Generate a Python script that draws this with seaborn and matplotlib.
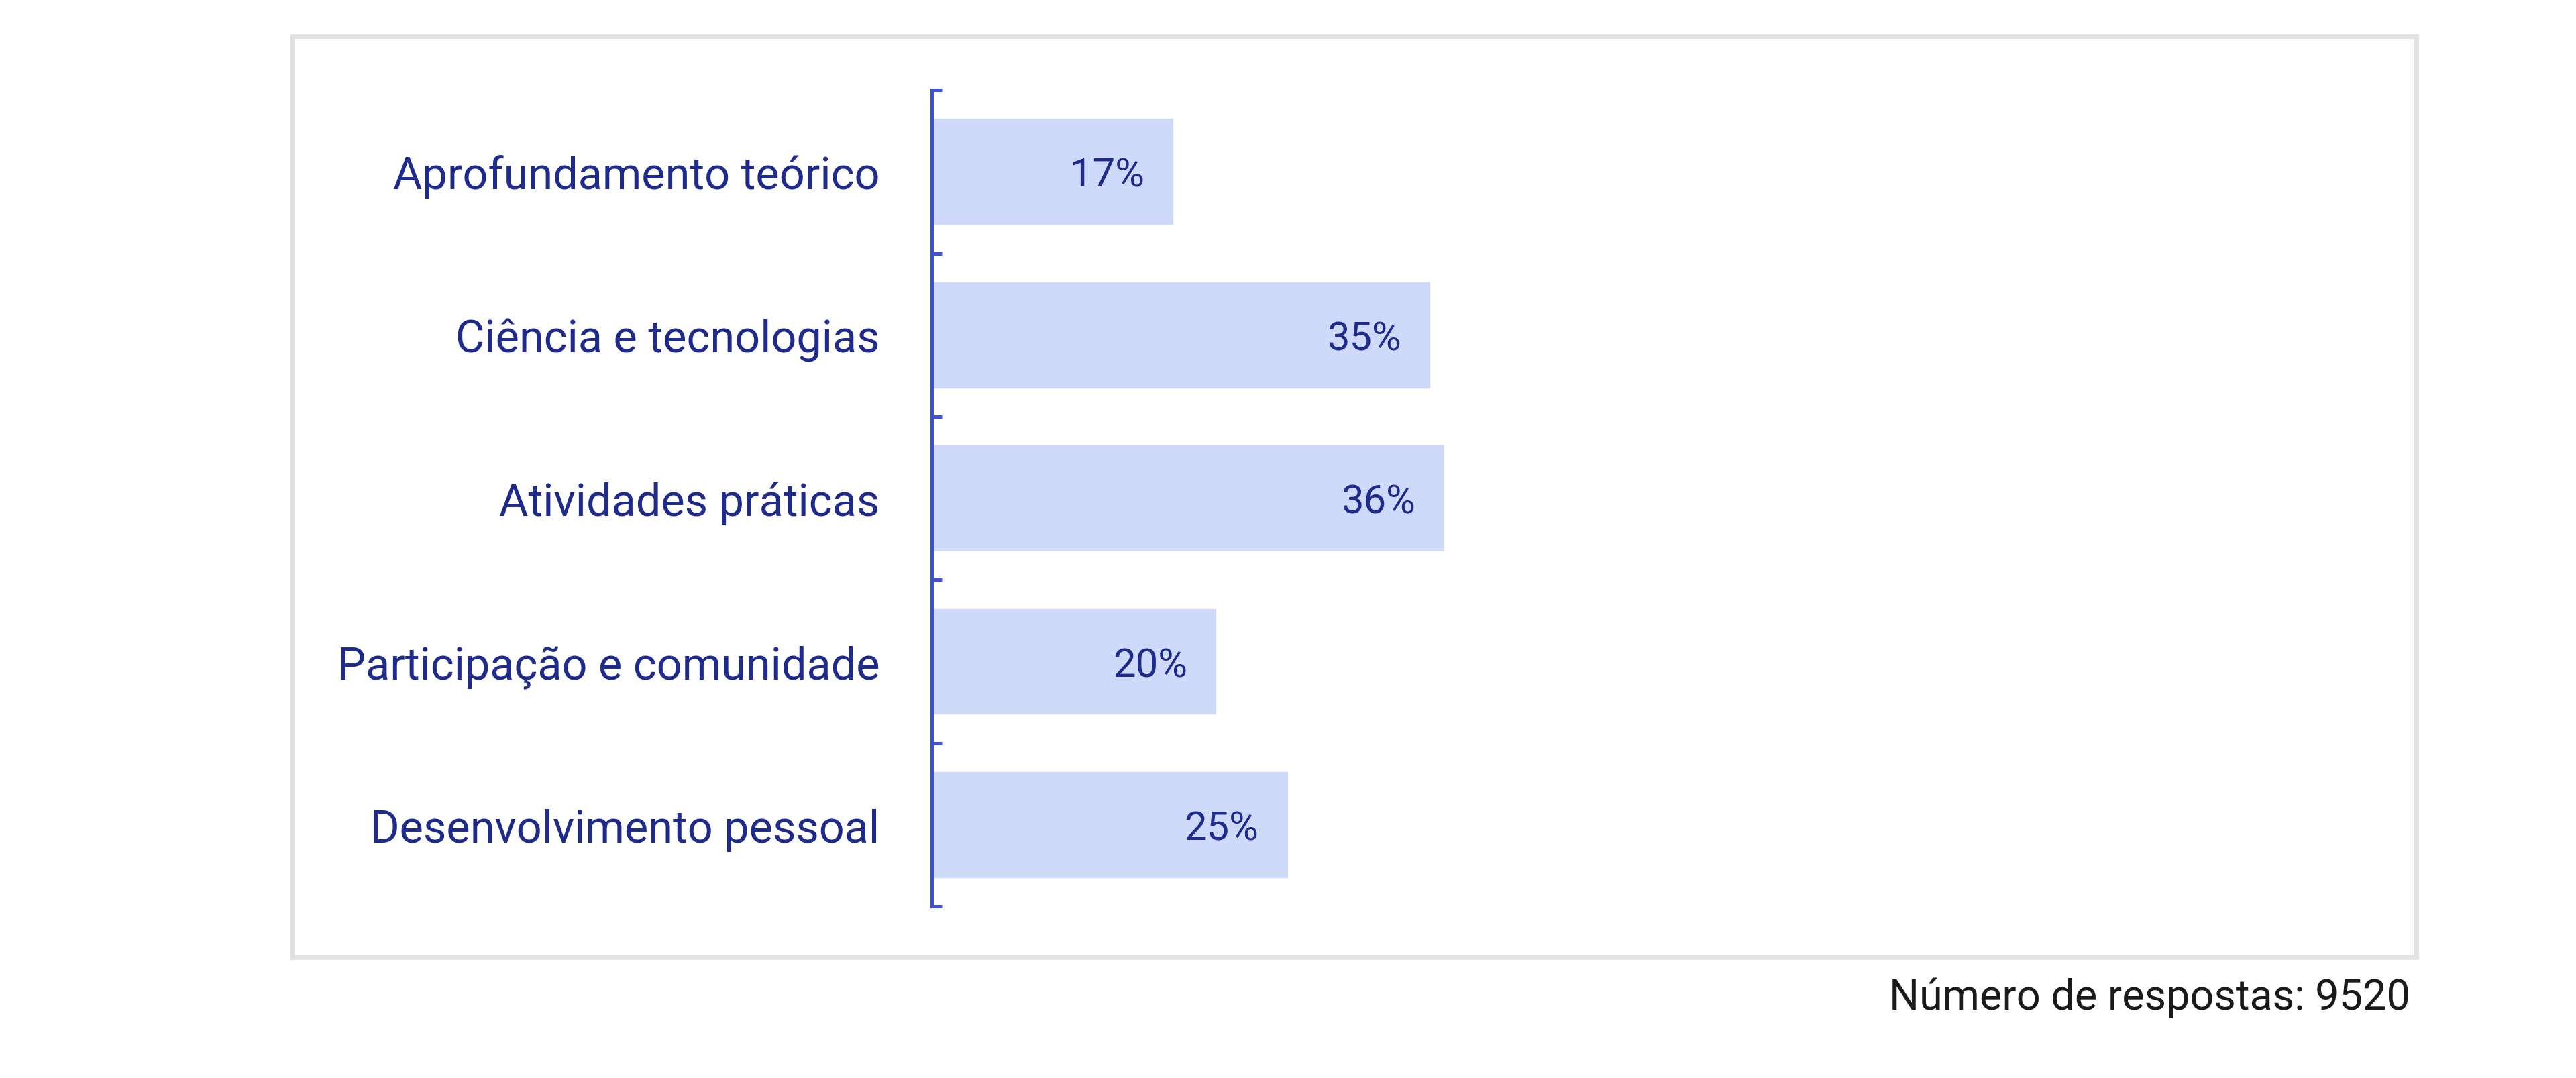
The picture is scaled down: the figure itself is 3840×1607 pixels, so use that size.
import matplotlib
matplotlib.use('Agg')
import matplotlib.pyplot as plt
import seaborn as sns
import pandas as pd
from matplotlib.patches import Rectangle

categories = ['Aprofundamento teórico', 'Ciência e tecnologias', 'Atividades práticas',
              'Participação e comunidade', 'Desenvolvimento pessoal']
values = [17, 35, 36, 20, 25]
footnote = 'Número de respostas: 9520'

navy = '#1f2b8c'
bar_color = '#cfdafb'
spine_color = '#3f52d8'

sns.set_theme(style='white')
plt.rcParams['font.family'] = ['Roboto', 'DejaVu Sans']

df = pd.DataFrame({'cat': categories, 'val': values})

fig = plt.figure(figsize=(19.2, 8.04), dpi=200)
fig.patch.set_facecolor('white')

# light frame around the chart, kept behind the axes
fig.patches.append(Rectangle((0.1135, 0.112), 0.8245, 0.854, transform=fig.transFigure,
                             facecolor='white', edgecolor='#e2e2e2', linewidth=2.5, zorder=-5))

ax = fig.add_axes([0.3617, 0.159, 0.551, 0.757])
ax.set_zorder(2)
ax.set_facecolor('none')
sns.barplot(data=df, x='val', y='cat', orient='h', color=bar_color, width=0.66,
            saturation=1, ax=ax)

ax.set_xlim(0, 99.5)
ax.set_ylim(len(categories) - 0.5, -0.5)
ax.set_xlabel('')
ax.set_ylabel('')
ax.set_xticks([])

# ticks sit on category boundaries, labels centred on bars
ax.set_yticks([i - 0.5 for i in range(len(categories) + 1)])
ax.set_yticklabels([])
ax.set_yticks(range(len(categories)), minor=True)
ax.set_yticklabels(categories, minor=True)
ax.tick_params(axis='y', which='major', direction='in', length=5.5, width=1.8,
               color=spine_color, left=True)
ax.tick_params(axis='y', which='minor', length=0, pad=28, labelsize=24, labelcolor=navy)

for s in ['top', 'right', 'bottom']:
    ax.spines[s].set_visible(False)
ax.spines['left'].set_color(spine_color)
ax.spines['left'].set_linewidth(1.8)

for i, v in enumerate(values):
    ax.annotate(f'{v}%', xy=(v, i), xytext=(-16, -2), textcoords='offset points',
                ha='right', va='center', fontsize=21.5, color=navy)

fig.text(0.9357, 0.075, footnote, ha='right', va='center', fontsize=22.7, color='#1a1a1a')

fig.savefig('out.png', dpi=200, facecolor='white')
